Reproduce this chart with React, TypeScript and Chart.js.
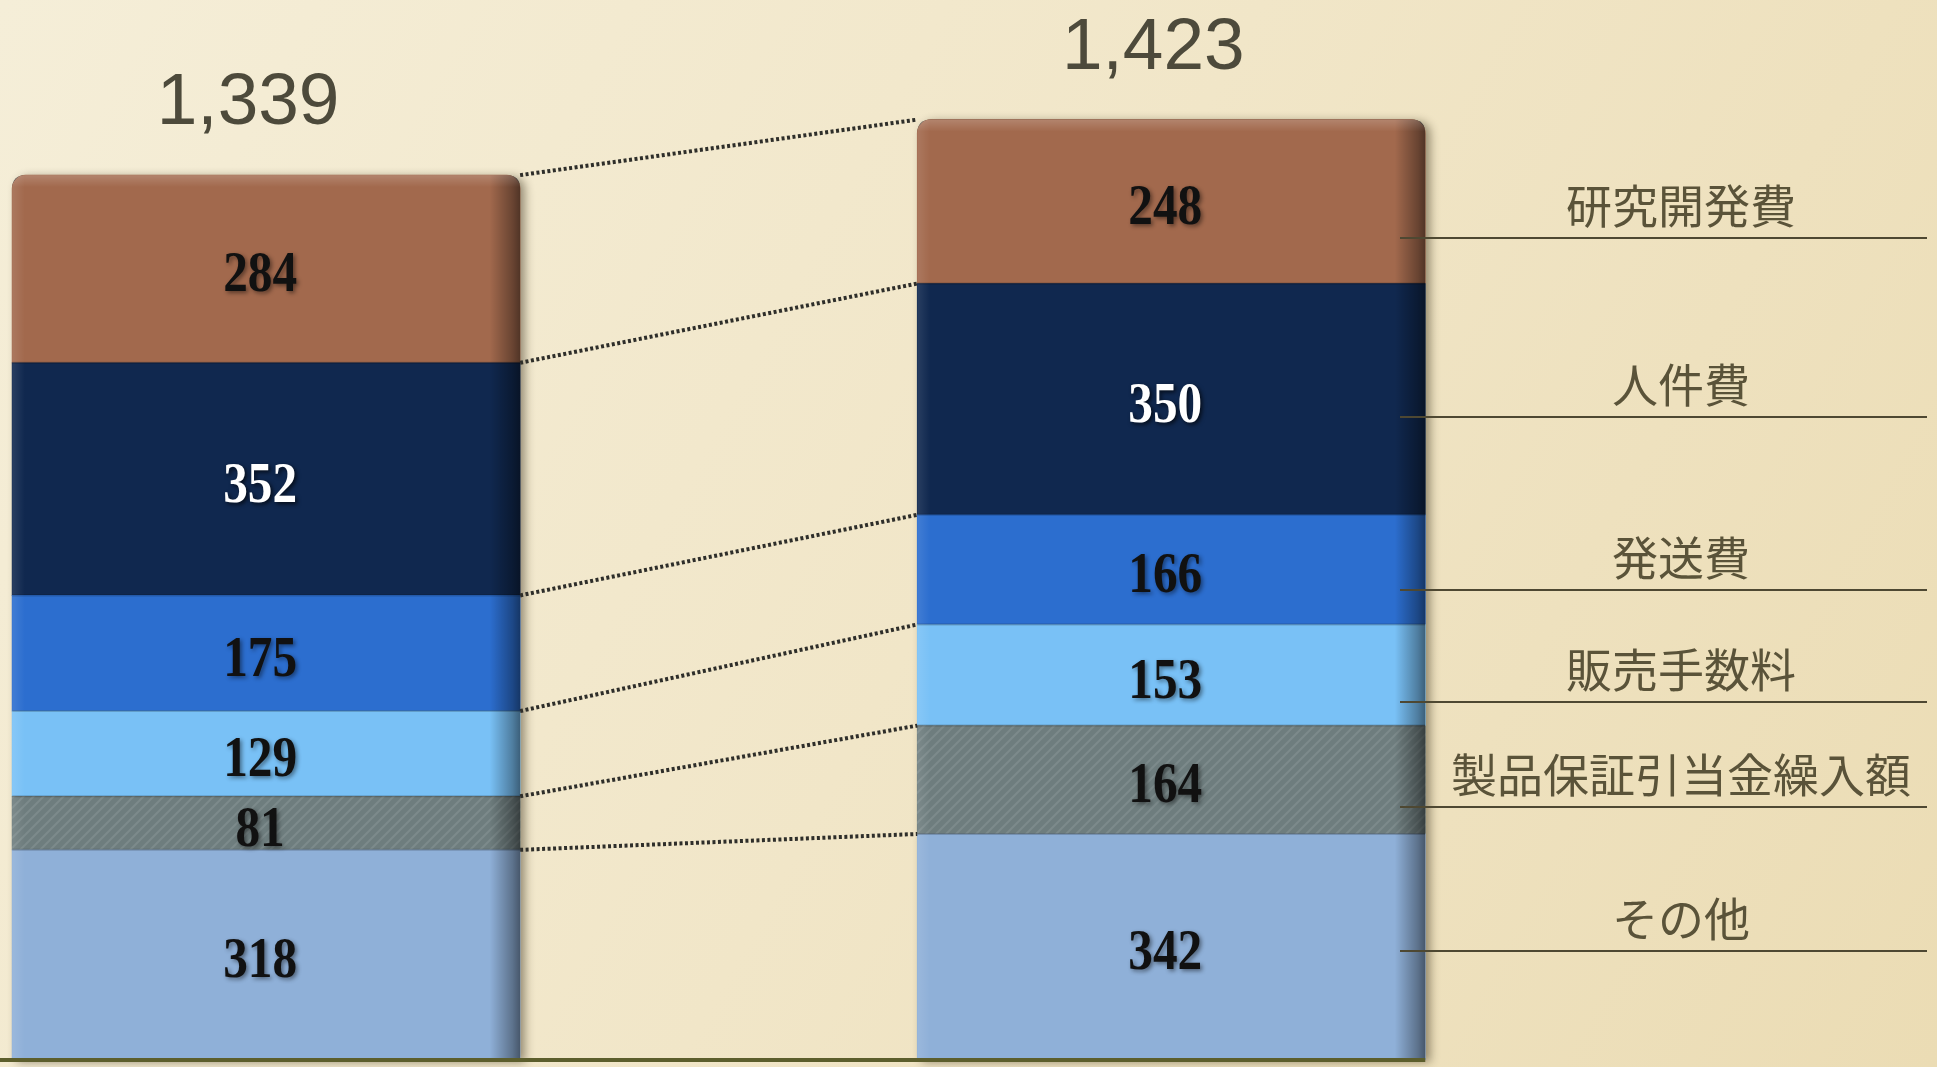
import React, { useEffect, useRef } from 'react';
import { Chart, registerables } from 'chart.js';

Chart.register(...registerables);

// ---- data ----
const periods = ['前期', '当期'];
const totals = [1339, 1423];
const categories = ['その他', '製品保証引当金繰入額', '販売手数料', '発送費', '人件費', '研究開発費'];
const otherValues = [318, 342];
const warrantyValues = [81, 164];
const commissionValues = [129, 153];
const shippingValues = [175, 166];
const personnelValues = [352, 350];
const rdValues = [284, 248];
const seriesValues = [otherValues, warrantyValues, commissionValues, shippingValues, personnelValues, rdValues];

// ---- styles ----
const seriesColors = ['#8fb0d8', '#6e7d7e', '#79c1f6', '#2c6ecf', '#10284f', '#a2694d'];
const valueTextColors = ['#111111', '#111111', '#111111', '#111111', '#ffffff', '#111111'];
// pixel y of the label underline for each category (legend layout)
const labelLineY = [951, 807, 702, 590, 417, 238];

const W = 1937;
const H = 1067;

function makeHatch(base: string): CanvasPattern | string {
  const c = document.createElement('canvas');
  c.width = 10;
  c.height = 10;
  const g = c.getContext('2d');
  if (!g) return base;
  g.fillStyle = base;
  g.fillRect(0, 0, 10, 10);
  g.strokeStyle = 'rgba(255,255,255,0.10)';
  g.lineWidth = 2;
  g.beginPath();
  g.moveTo(0, 10);
  g.lineTo(10, 0);
  g.moveTo(-5, 5);
  g.lineTo(5, -5);
  g.moveTo(5, 15);
  g.lineTo(15, 5);
  g.stroke();
  const ctx = document.createElement('canvas').getContext('2d');
  return (ctx && ctx.createPattern(c, 'repeat')) || base;
}

function stackRect(chart: any, i: number) {
  const n = chart.data.datasets.length;
  const topEl = chart.getDatasetMeta(n - 1).data[i] as any;
  const botEl = chart.getDatasetMeta(0).data[i] as any;
  const t = topEl.getProps(['x', 'y', 'width'], true);
  const b = botEl.getProps(['base'], true);
  return { left: t.x - t.width / 2, right: t.x + t.width / 2, top: t.y, bottom: b.base, cx: t.x };
}

function roundTopPath(ctx: CanvasRenderingContext2D, l: number, t: number, r: number, b: number, rad: number) {
  ctx.beginPath();
  ctx.moveTo(l, b);
  ctx.lineTo(l, t + rad);
  ctx.quadraticCurveTo(l, t, l + rad, t);
  ctx.lineTo(r - rad, t);
  ctx.quadraticCurveTo(r, t, r, t + rad);
  ctx.lineTo(r, b);
  ctx.closePath();
}

const backgroundPlugin = {
  id: 'bgPaper',
  beforeDraw(chart: any) {
    const ctx = chart.ctx as CanvasRenderingContext2D;
    const g = ctx.createLinearGradient(0, 0, W, H);
    g.addColorStop(0, '#f5eed8');
    g.addColorStop(0.5, '#f1e6c8');
    g.addColorStop(1, '#ebdcb4');
    ctx.save();
    ctx.fillStyle = g;
    ctx.fillRect(0, 0, W, H);
    ctx.restore();
  },
};

const shadowPlugin = {
  id: 'barShadow',
  beforeDatasetsDraw(chart: any) {
    const ctx = chart.ctx as CanvasRenderingContext2D;
    periods.forEach((_, i) => {
      const r = stackRect(chart, i);
      ctx.save();
      ctx.shadowColor = 'rgba(40,30,10,0.45)';
      ctx.shadowBlur = 10;
      ctx.shadowOffsetX = 5;
      ctx.shadowOffsetY = 2;
      ctx.fillStyle = '#333';
      roundTopPath(ctx, r.left, r.top, r.right, r.bottom, 14);
      ctx.fill();
      ctx.restore();
    });
  },
};

const decorPlugin = {
  id: 'decor',
  afterDatasetsDraw(chart: any) {
    const ctx = chart.ctx as CanvasRenderingContext2D;
    const yScale = chart.scales.y;
    const rects = periods.map((_, i) => stackRect(chart, i));

    // bevel overlay on each stack
    rects.forEach((r, ri) => {
      ctx.save();
      roundTopPath(ctx, r.left, r.top, r.right, r.bottom, 14);
      ctx.clip();
      const w = r.right - r.left;
      const g = ctx.createLinearGradient(r.left, 0, r.right, 0);
      g.addColorStop(0, 'rgba(255,255,255,0.10)');
      g.addColorStop(0.025, 'rgba(255,255,255,0)');
      g.addColorStop(0.94, 'rgba(0,0,0,0)');
      g.addColorStop(0.985, 'rgba(0,0,0,0.35)');
      g.addColorStop(1, 'rgba(0,0,0,0.5)');
      ctx.fillStyle = g;
      ctx.fillRect(r.left, r.top, w, r.bottom - r.top);
      const gt = ctx.createLinearGradient(0, r.top, 0, r.top + 12);
      gt.addColorStop(0, 'rgba(255,255,255,0.18)');
      gt.addColorStop(1, 'rgba(255,255,255,0)');
      ctx.fillStyle = gt;
      ctx.fillRect(r.left, r.top, w, 12);
      // segment dividers
      ctx.strokeStyle = 'rgba(0,0,0,0.18)';
      ctx.lineWidth = 2;
      let cum = 0;
      seriesValues.forEach((vals, k) => {
        if (k === seriesValues.length - 1) return;
        cum += vals[ri];
        const y = yScale.getPixelForValue(cum);
        ctx.beginPath();
        ctx.moveTo(r.left, y);
        ctx.lineTo(r.right, y);
        ctx.stroke();
      });
      ctx.restore();
    });

    // dotted connectors between boundaries
    ctx.save();
    ctx.strokeStyle = '#2e2e2a';
    ctx.lineWidth = 4;
    ctx.setLineDash([3, 2.5]);
    let cumA = 0;
    let cumB = 0;
    seriesValues.forEach((vals) => {
      cumA += vals[0];
      cumB += vals[1];
      ctx.beginPath();
      ctx.moveTo(rects[0].right, yScale.getPixelForValue(cumA));
      ctx.lineTo(rects[1].left, yScale.getPixelForValue(cumB));
      ctx.stroke();
    });
    ctx.restore();

    // value labels
    seriesValues.forEach((vals, k) => {
      const meta = chart.getDatasetMeta(k);
      meta.data.forEach((el: any, i: number) => {
        const p = el.getProps(['x', 'y', 'base'], true);
        const cy = (p.y + p.base) / 2;
        ctx.save();
        ctx.translate(p.x - 6, cy + 8);
        ctx.scale(0.88, 1);
        ctx.font = 'bold 56px "Liberation Serif", "DejaVu Serif", serif';
        ctx.textAlign = 'center';
        ctx.textBaseline = 'middle';
        ctx.shadowColor = valueTextColors[k] === '#ffffff' ? 'rgba(0,0,0,0.7)' : 'rgba(0,0,0,0.45)';
        ctx.shadowBlur = 4;
        ctx.shadowOffsetX = 2;
        ctx.shadowOffsetY = 2;
        ctx.fillStyle = valueTextColors[k];
        ctx.fillText(String(vals[i]), 0, 0);
        ctx.restore();
      });
    });

    // totals
    rects.forEach((r, i) => {
      ctx.save();
      ctx.font = '73px "Liberation Sans", Arial, sans-serif';
      ctx.textAlign = 'center';
      ctx.textBaseline = 'alphabetic';
      ctx.fillStyle = '#4d4a3b';
      ctx.fillText(totals[i].toLocaleString('en-US'), r.cx - 18, r.top - 51);
      ctx.restore();
    });

    // category labels with underlines on the right
    const lineL = 1400;
    const lineR = 1927;
    categories.forEach((name, k) => {
      const y = labelLineY[k];
      ctx.save();
      ctx.strokeStyle = '#4e4832';
      ctx.lineWidth = 2;
      ctx.beginPath();
      ctx.moveTo(lineL, y);
      ctx.lineTo(lineR, y);
      ctx.stroke();
      ctx.font = '46px "Noto Sans CJK JP", "Noto Sans", sans-serif';
      ctx.textAlign = 'center';
      ctx.textBaseline = 'middle';
      ctx.fillStyle = '#5a5339';
      ctx.fillText(name, 1681, y - 32);
      ctx.restore();
    });

    // baseline
    ctx.save();
    ctx.strokeStyle = '#5c5e2c';
    ctx.lineWidth = 4;
    const by = yScale.getPixelForValue(0);
    ctx.beginPath();
    ctx.moveTo(0, by);
    ctx.lineTo(rects[1].right, by);
    ctx.stroke();
    ctx.restore();
  },
};

export default function App() {
  const ref = useRef<HTMLCanvasElement | null>(null);

  useEffect(() => {
    if (!ref.current) return;
    const hatch = makeHatch(seriesColors[1]);
    const datasets = categories.map((name, k) => ({
      label: name,
      data: seriesValues[k].map((v, i) => ({ x: i, y: v })),
      backgroundColor: k === 1 ? hatch : seriesColors[k],
      borderWidth: 0,
      borderSkipped: false as any,
      borderRadius:
        k === categories.length - 1
          ? { topLeft: 14, topRight: 14, bottomLeft: 0, bottomRight: 0 }
          : 0,
      barThickness: 508,
    }));
    const chart = new Chart(ref.current, {
      type: 'bar',
      data: { datasets: datasets as any },
      options: {
        responsive: false,
        animation: false,
        layout: { padding: { left: 0, right: 0, top: 0, bottom: 7 } },
        plugins: { legend: { display: false }, tooltip: { enabled: false } },
        scales: {
          x: {
            type: 'linear',
            min: -0.294,
            max: 1.846,
            offset: false,
            grid: { offset: false },
            stacked: true,
            display: false,
          },
          y: { min: 0, max: 1604, stacked: true, display: false },
        },
      },
      plugins: [backgroundPlugin, shadowPlugin, decorPlugin],
    });
    return () => chart.destroy();
  }, []);

  return (
    <div style={{ position: 'absolute', left: 0, top: 0, width: W, height: H, overflow: 'hidden' }}>
      <canvas ref={ref} width={W} height={H} style={{ width: W, height: H, display: 'block' }} />
    </div>
  );
}
